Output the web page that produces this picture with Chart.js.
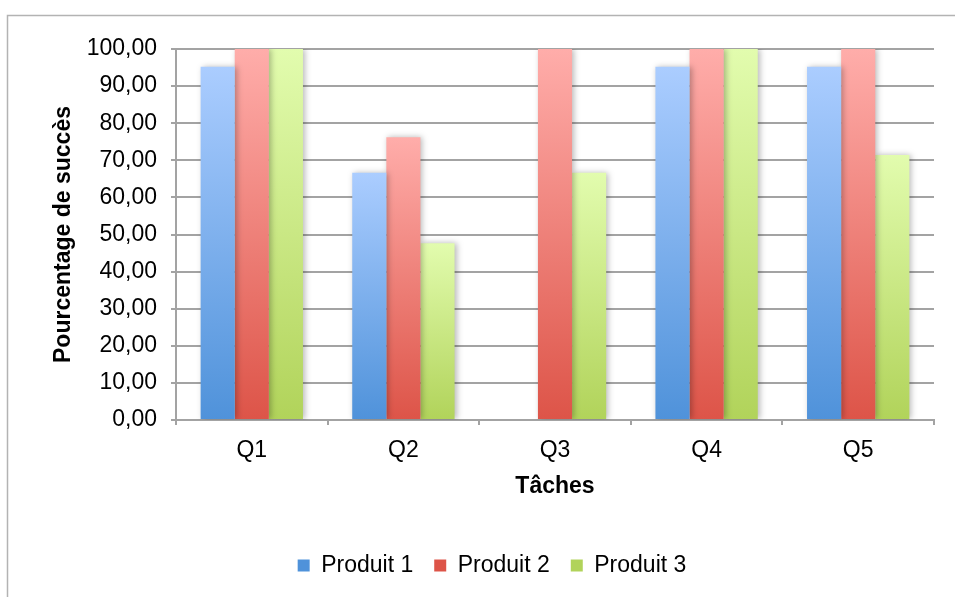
<!DOCTYPE html>
<html>
<head>
<meta charset="utf-8">
<script src="https://cdn.jsdelivr.net/npm/chart.js@4.4.0/dist/chart.umd.min.js"></script>
<style>
html,body{margin:0;padding:0;background:#fff;}
#wrap{width:955px;height:597px;}
</style>
</head>
<body>
<div id="wrap"><canvas id="c" width="955" height="597"></canvas></div>
<script>
const categories = ['Q1', 'Q2', 'Q3', 'Q4', 'Q5'];
const produit1 = [95.24, 66.67, 0, 95.24, 95.24];
const produit2 = [100, 76.19, 100, 100, 100];
const produit3 = [100, 47.62, 66.67, 100, 71.43];
const seriesNames = ['Produit 1', 'Produit 2', 'Produit 3'];
const yAxisTitle = 'Pourcentage de succès';
const xAxisTitle = 'Tâches';

const FONT = "'Liberation Sans', Arial, Helvetica, sans-serif";
const FS = 23;
const palettes = [
  ['#abcdff', '#4f92da'],
  ['#ffadaa', '#dd5448'],
  ['#e2fcae', '#b1d35a']
];

function gradFor(idx) {
  return function(ctx) {
    const chart = ctx.chart;
    const pal = palettes[idx];
    if (!chart.chartArea || !chart.scales.y) return pal[1];
    const ys = chart.scales.y;
    let v = ctx.raw;
    if (typeof v !== 'number') v = 100;
    let top = ys.getPixelForValue(v);
    let bottom = ys.getPixelForValue(0);
    if (bottom - top < 1) top = bottom - 1;
    const g = chart.ctx.createLinearGradient(0, top, 0, bottom);
    g.addColorStop(0, pal[0]);
    g.addColorStop(1, pal[1]);
    return g;
  };
}

const framePlugin = {
  id: 'frame',
  beforeDraw(chart) {
    const c = chart.ctx;
    c.save();
    c.strokeStyle = '#b3b3b3';
    c.lineWidth = 1.5;
    c.beginPath();
    c.moveTo(7.5, chart.height + 2);
    c.lineTo(7.5, 15.5);
    c.lineTo(chart.width + 2, 15.5);
    c.stroke();
    c.restore();
  }
};
const shadowPlugin = {
  id: 'barShadow',
  beforeDatasetsDraw(chart) {
    const c = chart.ctx;
    c.save();
    c.shadowColor = 'rgba(0,0,0,0.28)';
    c.shadowBlur = 6;
    c.shadowOffsetX = 2;
    c.shadowOffsetY = 0;
  },
  afterDatasetsDraw(chart) {
    chart.ctx.restore();
  }
};

const dataArrays = [produit1, produit2, produit3];
new Chart(document.getElementById('c'), {
  type: 'bar',
  data: {
    labels: categories,
    datasets: dataArrays.map((d, i) => ({
      label: seriesNames[i],
      data: d,
      backgroundColor: gradFor(i),
      borderWidth: 0,
      categoryPercentage: 0.675,
      barPercentage: 1.0
    }))
  },
  options: {
    responsive: false,
    animation: false,
    devicePixelRatio: 1,
    layout: { padding: { left: 50, right: 21, top: 49, bottom: 10 } },
    plugins: {
      tooltip: { enabled: false },
      legend: {
        position: 'bottom',
        labels: {
          boxWidth: 12,
          boxHeight: 12,
          padding: 21,
          color: '#000',
          font: { family: FONT, size: FS }
        }
      }
    },
    scales: {
      y: {
        min: 0,
        max: 100,
        ticks: {
          stepSize: 10,
          padding: 14,
          color: '#000',
          font: { family: FONT, size: FS },
          callback: v => v.toFixed(2).replace('.', ',')
        },
        grid: { color: '#a3a3a3', lineWidth: 2, tickLength: 5, drawTicks: true },
        border: { color: '#a3a3a3', width: 2 },
        title: {
          display: true,
          text: yAxisTitle,
          color: '#000',
          font: { family: FONT, size: FS, weight: 'bold' },
          padding: { top: 0, bottom: 0 }
        },
        afterFit(scale) { scale.width = 126; }
      },
      x: {
        ticks: {
          padding: 12,
          color: '#000',
          font: { family: FONT, size: FS }
        },
        grid: { offset: true, drawOnChartArea: false, color: '#a3a3a3', lineWidth: 2, tickLength: 5 },
        border: { color: '#a3a3a3', width: 2 },
        title: {
          display: true,
          text: xAxisTitle,
          color: '#000',
          font: { family: FONT, size: FS, weight: 'bold' },
          padding: { top: 0, bottom: 33 }
        },
        afterFit(scale) { scale.height = 113; }
      }
    }
  },
  plugins: [framePlugin, shadowPlugin]
});
</script>
</body>
</html>
